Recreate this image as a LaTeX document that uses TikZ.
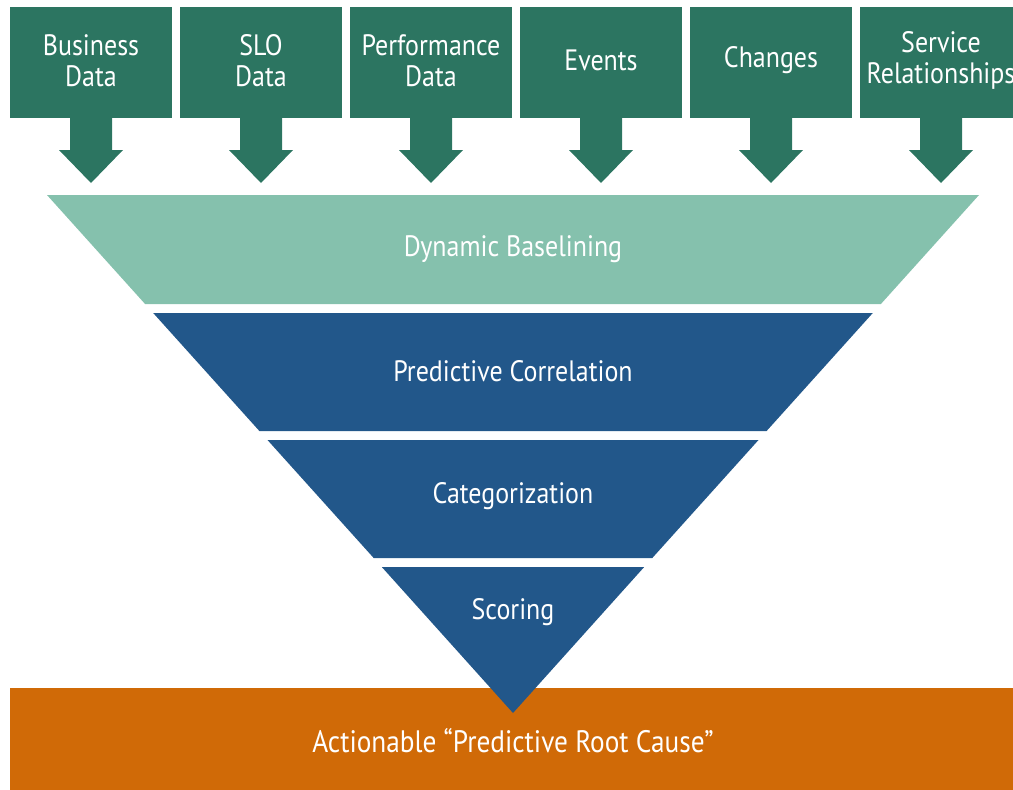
\documentclass[tikz,border=0pt]{standalone}
\usepackage{fontspec}
\setmainfont[FakeStretch=0.88]{PT Sans}
\definecolor{srcgreen}{HTML}{2C7561}
\definecolor{lightgreen}{HTML}{85C1AD}
\definecolor{funnelblue}{HTML}{22578A}
\definecolor{resorange}{HTML}{D06A07}
\begin{document}
\begin{tikzpicture}[x=1pt,y=-1pt,
  srcbox/.style={fill=srcgreen,draw=none,minimum width=162pt,minimum height=111pt,inner sep=0pt},
  srctext/.style={text=white,font=\fontsize{29.5}{31}\selectfont,align=center},
  downarrow/.style={fill=srcgreen,draw=none},
  layertext/.style={text=white,font=\fontsize{29.5}{31}\selectfont}
]
\useasboundingbox (0,0) rectangle (1013,790);
\begin{scope}
\clip (0,0) rectangle (1013,790);
% result bar
\fill[resorange] (10,688) rectangle (1030,795);
\node[layertext,font=\fontsize{31}{33}\selectfont] (result) at (513,741) {Actionable “Predictive Root Cause”};
% source boxes and arrows
\foreach \i/\c/\t in {1/91/{Business\\Data},2/261/{SLO\\Data},3/431/{Performance\\Data},4/601/{Events},5/771/{Changes},6/941/{Service\\Relationships}}{
  \node[srcbox] (src\i) at (\c,62.5) {};
  \node[srctext] (srct\i) at (\c,60.5) {\t};
  \fill[downarrow] (\c-21,118) -- (\c+21,118) -- (\c+21,150) -- (\c+32,150) -- (\c,183) -- (\c-32,150) -- (\c-21,150) -- cycle;
}
% funnel layers
\fill[lightgreen] (47,195) -- (979,195) -- (880.9,304) -- (145.1,304) -- cycle;
\node[layertext] (l1) at (513,249) {Dynamic Baselining};
\fill[funnelblue] (153.2,313) -- (872.8,313) -- (766.6,431) -- (259.4,431) -- cycle;
\node[layertext] (l2) at (513,371) {Predictive Correlation};
\fill[funnelblue] (267.5,440) -- (758.5,440) -- (652.3,558) -- (373.7,558) -- cycle;
\node[layertext] (l3) at (513,496) {Categorization};
\fill[funnelblue] (381.8,567) -- (644.2,567) -- (513,713) -- cycle;
\node[layertext] (l4) at (513,612) {Scoring};
\end{scope}
\end{tikzpicture}
\end{document}
